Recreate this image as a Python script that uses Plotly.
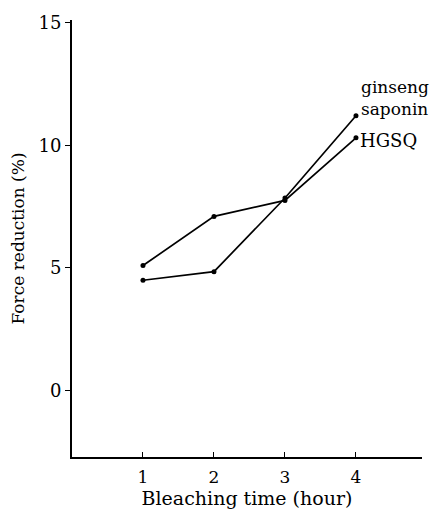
import plotly.graph_objects as go

hours = [1, 2, 3, 4]
ginseng_saponin = [4.5, 4.85, 7.85, 11.2]
hgsq = [5.1, 7.1, 7.75, 10.3]
x_ticks = [1, 2, 3, 4]
y_ticks = [0, 5, 10, 15]

FONT = "DejaVu Serif"

fig = go.Figure()
for name, vals in [("ginseng saponin", ginseng_saponin), ("HGSQ", hgsq)]:
    fig.add_trace(go.Scatter(
        x=hours, y=vals, mode="lines+markers", name=name,
        line=dict(color="black", width=1.7),
        marker=dict(color="black", size=5),
        showlegend=False,
    ))

fig.add_annotation(x=4, y=ginseng_saponin[-1], text="ginseng<br>saponin",
                   xref="x", yref="y", showarrow=False, xanchor="left",
                   yanchor="bottom", xshift=3, yshift=-5, align="left",
                   font=dict(family=FONT, size=17, color="black"))
fig.add_annotation(x=4, y=hgsq[-1], text="HGSQ",
                   xref="x", yref="y", showarrow=False, xanchor="left",
                   yanchor="middle", xshift=2, yshift=-3, align="left",
                   font=dict(family=FONT, size=18, color="black"))

fig.update_layout(
    width=436, height=515,
    margin=dict(l=72, r=14, t=13, b=54),
    plot_bgcolor="white", paper_bgcolor="white",
    font=dict(family=FONT, size=17, color="black"),
)
fig.update_xaxes(
    range=[0, 4.93], tickvals=x_ticks, ticks="inside", ticklen=5,
    tickwidth=1.3, tickcolor="black", ticklabelstandoff=4,
    showline=True, linecolor="black", linewidth=2, showgrid=False, zeroline=False,
    title=dict(text="Bleaching time (hour)", standoff=2, font=dict(size=19)),
    tickfont=dict(size=17),
)
fig.update_yaxes(
    range=[-2.7, 15.1], tickvals=y_ticks, ticks="outside", ticklen=5,
    tickwidth=1.3, tickcolor="black",
    showline=True, linecolor="black", linewidth=2, showgrid=False, zeroline=False,
    title=dict(text="Force reduction (%)", standoff=10, font=dict(size=17)),
    tickfont=dict(size=18),
)

fig.write_html("out.html")
